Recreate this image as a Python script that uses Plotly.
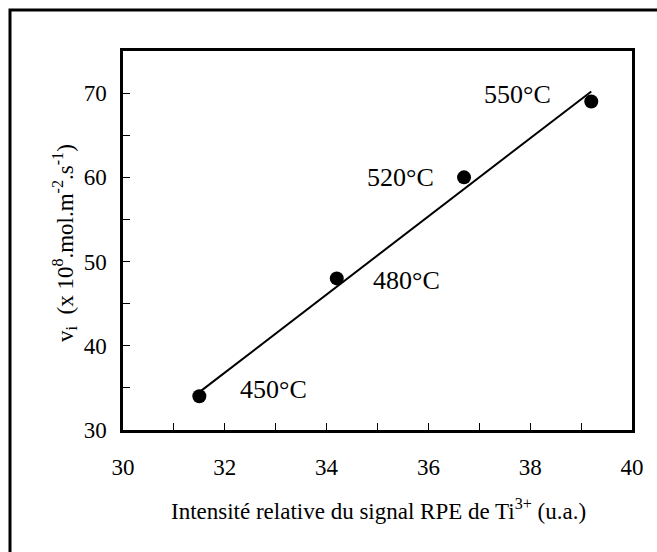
import plotly.graph_objects as go

# Data
intensity = [31.5, 34.2, 36.7, 39.2]          # Intensité relative du signal RPE de Ti3+ (u.a.)
rate = [34, 48, 60, 69]                         # v_i (x 10^8 mol.m^-2.s^-1)
temp_labels = ["450°C", "480°C", "520°C", "550°C"]
fit_x = [31.5, 39.2]
fit_y = [34.5, 70.2]
x_ticks = [30, 32, 34, 36, 38, 40]
y_ticks = [30, 40, 50, 60, 70]

FONT = "Liberation Serif, Times New Roman, serif"

fig = go.Figure()
fig.add_trace(go.Scatter(x=fit_x, y=fit_y, mode="lines",
                         line=dict(color="black", width=2), showlegend=False,
                         hoverinfo="skip"))
fig.add_trace(go.Scatter(x=intensity, y=rate, mode="markers",
                         marker=dict(color="black", size=14), showlegend=False))

# label offsets (pixels) relative to each point
offsets = [(74, 7), (70, -2), (-64, 0), (-74, 7)]
for xv, yv, txt, (dx, dy) in zip(intensity, rate, temp_labels, offsets):
    fig.add_annotation(x=xv, y=yv, text=txt, showarrow=False,
                       xshift=dx, yshift=dy, xanchor="center", yanchor="middle",
                       font=dict(family=FONT, size=26, color="black"))

W, H = 657, 552
L, R, T, B = 123, 25, 51, 122
pw, ph = W - L - R, H - T - B

fig.add_annotation(xref="paper", yref="paper",
                   x=(378 - L) / pw, y=(H - B - 509) / ph,
                   xanchor="center", yanchor="middle",
                   text="Intensité relative du signal RPE de Ti<sup>3+</sup> (u.a.)",
                   showarrow=False, font=dict(family=FONT, size=23, color="black"))
fig.add_annotation(xref="paper", yref="paper",
                   x=(64 - L) / pw, y=(H - B - 243) / ph,
                   xanchor="center", yanchor="middle",
                   text="v<sub>i</sub>  (x 10<sup>8</sup>.mol.m<sup>-2</sup>.s<sup>-1</sup>)",
                   textangle=-90, showarrow=False,
                   font=dict(family=FONT, size=23, color="black"))

# outer frame
fig.add_shape(type="rect", xref="paper", yref="paper",
              x0=(10 - L) / pw, x1=(W + 10 - L) / pw,
              y0=(H - B - (H + 10)) / ph, y1=(H - B - 10) / ph,
              line=dict(color="black", width=3), fillcolor="rgba(0,0,0,0)")

fig.update_xaxes(range=[30, 40], tickvals=x_ticks, ticks="inside", ticklen=7,
                 tickcolor="black", tickwidth=1,
                 minor=dict(ticks="inside", dtick=1, ticklen=7, tickcolor="black"),
                 showline=True, linecolor="black", linewidth=2.5, mirror=True,
                 showgrid=False, zeroline=False, ticklabelstandoff=15,
                 tickfont=dict(family=FONT, size=23, color="black"))
fig.update_yaxes(range=[30, 75], tickvals=y_ticks, ticks="inside", ticklen=7,
                 tickcolor="black", tickwidth=1,
                 minor=dict(ticks="inside", dtick=5, ticklen=7, tickcolor="black"),
                 showline=True, linecolor="black", linewidth=2.5, mirror=True,
                 showgrid=False, zeroline=False, ticklabelstandoff=9,
                 tickfont=dict(family=FONT, size=23, color="black"))

fig.update_layout(width=W, height=H, margin=dict(l=L, r=R, t=T, b=B),
                  paper_bgcolor="white", plot_bgcolor="white")

fig.write_html("out.html",
               config={"displayModeBar": False},
               post_script="document.body.style.margin='0px';"
                           "document.body.style.overflow='hidden';"
                           "document.documentElement.style.overflow='hidden';")
